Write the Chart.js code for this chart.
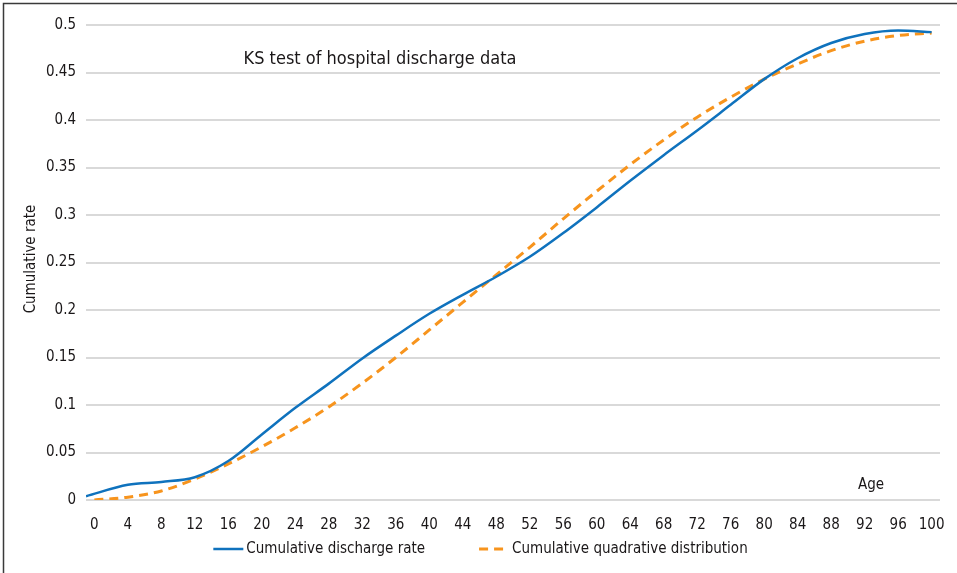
<!DOCTYPE html>
<html>
<head>
<meta charset="utf-8">
<script src="https://cdn.jsdelivr.net/npm/chart.js@4/dist/chart.umd.min.js"></script>
<style>
  html, body { margin: 0; padding: 0; background: #ffffff; }
  #wrap { width: 957px; height: 573px; position: relative; }
</style>
</head>
<body>
<div id="wrap"><canvas id="c" width="957" height="573"></canvas></div>
<script>
const FONT = '"DejaVu Sans Condensed", "Liberation Sans Narrow", "DejaVu Sans", sans-serif';
const TEXT = '#1a1718';

const chartTitle = 'KS test of hospital discharge data';
const xAxisTitle = 'Age';
const yAxisTitle = 'Cumulative rate';

const ageTicks = [0, 4, 8, 12, 16, 20, 24, 28, 32, 36, 40, 44, 48, 52, 56, 60, 64, 68, 72, 76, 80, 84, 88, 92, 96, 100];
const rateTicks = [0, 0.05, 0.1, 0.15, 0.2, 0.25, 0.3, 0.35, 0.4, 0.45, 0.5];

// Observed cumulative discharge rate by age
const dischargeLabel = 'Cumulative discharge rate';
const dischargeAges = [-1, 4, 8, 12, 16, 20, 24, 28, 32, 36, 40, 44, 48, 52, 56, 60, 64, 68, 72, 76, 80, 84, 88, 92, 96, 100];
const dischargeRate = [0.004, 0.016, 0.019, 0.024, 0.041, 0.069, 0.097, 0.1225, 0.149, 0.173, 0.196, 0.216, 0.235, 0.256, 0.281, 0.308, 0.336, 0.363, 0.389, 0.416, 0.443, 0.465, 0.481, 0.4905, 0.4942, 0.4925];

// Fitted cumulative quadrative distribution
const quadLabel = 'Cumulative quadrative distribution';
const quadAges = [0, 4, 8, 12, 16, 20, 24, 28, 32, 36, 40, 44, 48, 52, 56, 60, 64, 68, 72, 76, 80, 84, 88, 92, 96, 100];
const quadRate = [0.0, 0.003, 0.0095, 0.022, 0.038, 0.056, 0.076, 0.098, 0.123, 0.150, 0.179, 0.208, 0.237, 0.266, 0.296, 0.325, 0.353, 0.379, 0.403, 0.424, 0.443, 0.459, 0.473, 0.483, 0.489, 0.4915];

const toPoints = (xs, ys) => xs.map((x, i) => ({ x: x, y: ys[i] }));

// Thin frame along the left and top edges
const framePlugin = {
  id: 'frame',
  beforeDraw(chart) {
    const ctx = chart.ctx;
    ctx.save();
    ctx.strokeStyle = '#3a3a3a';
    ctx.lineWidth = 1.5;
    ctx.beginPath();
    ctx.moveTo(3.5, chart.height);
    ctx.lineTo(3.5, 3.5);
    ctx.lineTo(chart.width, 3.5);
    ctx.stroke();
    ctx.restore();
  }
};

// Title inside the plot, axis captions
const textPlugin = {
  id: 'captions',
  afterDraw(chart) {
    const ctx = chart.ctx;
    ctx.save();
    ctx.fillStyle = TEXT;
    ctx.font = '18px ' + FONT;
    ctx.textAlign = 'center';
    ctx.textBaseline = 'alphabetic';
    ctx.fillText(chartTitle, 380, 64);

    ctx.font = '15px ' + FONT;
    ctx.fillText(xAxisTitle, 871, 489);

    ctx.translate(31, 259);
    ctx.rotate(-Math.PI / 2);
    ctx.textBaseline = 'middle';
    ctx.fillText(yAxisTitle, 0, 0);
    ctx.restore();
  }
};

// Line-sample legend under the axis
const legendPlugin = {
  id: 'lineLegend',
  afterDraw(chart) {
    const ctx = chart.ctx;
    const sample = 30, gap = 3, spacing = 54;
    ctx.save();
    ctx.font = '15px ' + FONT;
    const items = chart.data.datasets.map(ds => ({
      ds, w: sample + gap + ctx.measureText(ds.label).width
    }));
    const total = items.reduce((s, it) => s + it.w, 0) + spacing * (items.length - 1);
    let x = chart.width / 2 + 2 - total / 2;
    const y = 549;
    items.forEach(it => {
      ctx.strokeStyle = it.ds.borderColor;
      ctx.lineWidth = it.ds.borderWidth;
      ctx.setLineDash(it.ds.borderDash || []);
      ctx.beginPath();
      ctx.moveTo(x, y);
      ctx.lineTo(x + sample, y);
      ctx.stroke();
      ctx.setLineDash([]);
      ctx.fillStyle = TEXT;
      ctx.textAlign = 'left';
      ctx.textBaseline = 'middle';
      ctx.fillText(it.ds.label, x + sample + gap, y);
      x += it.w + spacing;
    });
    ctx.restore();
  }
};

new Chart(document.getElementById('c'), {
  type: 'line',
  data: {
    datasets: [
      {
        label: dischargeLabel,
        data: toPoints(dischargeAges, dischargeRate),
        borderColor: '#0f72bd',
        borderWidth: 2.5,
        pointRadius: 0,
        cubicInterpolationMode: 'monotone',
        fill: false
      },
      {
        label: quadLabel,
        data: toPoints(quadAges, quadRate),
        borderColor: '#f7941d',
        borderWidth: 3,
        borderDash: [9, 6],
        pointRadius: 0,
        cubicInterpolationMode: 'monotone',
        fill: false
      }
    ]
  },
  options: {
    responsive: false,
    animation: false,
    devicePixelRatio: 1,
    layout: { padding: { top: 25, right: 17, bottom: 0, left: 0 } },
    plugins: {
      legend: { display: false },
      title: { display: false },
      tooltip: { enabled: false }
    },
    scales: {
      x: {
        type: 'linear',
        min: -1,
        max: 101,
        afterBuildTicks: s => { s.ticks = ageTicks.map(v => ({ value: v })); },
        afterFit: s => { s.height = 73; },
        grid: { display: false },
        border: { display: false },
        ticks: {
          autoSkip: false,
          maxRotation: 0,
          padding: 8,
          color: TEXT,
          font: { family: FONT, size: 15 },
          callback: v => String(v)
        }
      },
      y: {
        min: 0,
        max: 0.5,
        afterBuildTicks: s => { s.ticks = rateTicks.map(v => ({ value: v })); },
        afterFit: s => { s.width = 86; },
        grid: { color: '#d9d9d9', lineWidth: 2, drawTicks: false },
        border: { display: false },
        ticks: {
          padding: 10,
          color: TEXT,
          font: { family: FONT, size: 15 },
          callback: v => String(+Number(v).toFixed(2))
        }
      }
    }
  },
  plugins: [framePlugin, textPlugin, legendPlugin]
});
</script>
</body>
</html>
